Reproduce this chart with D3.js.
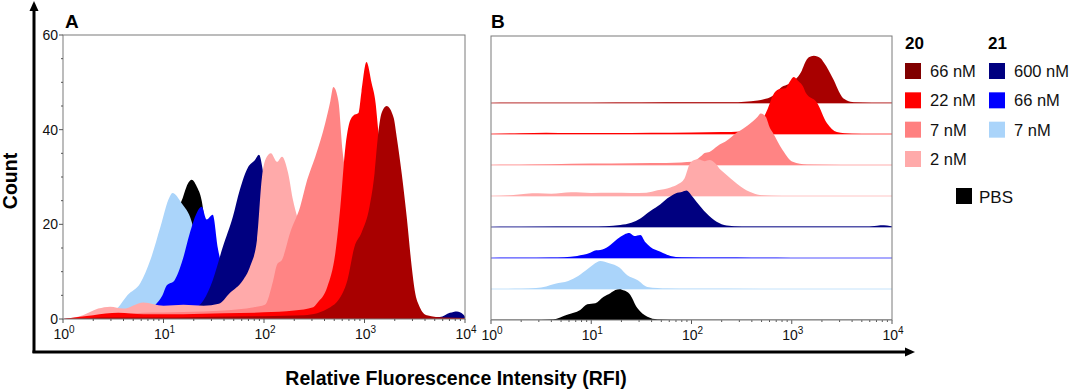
<!DOCTYPE html>
<html><head><meta charset="utf-8">
<script src="https://cdn.jsdelivr.net/npm/d3@7"></script>
<style>
body{margin:0;background:#fff}
svg{display:block;font-family:Arial,"Liberation Sans",Helvetica,sans-serif}
</style>
</head><body>
<svg id="chart" width="1072" height="390"></svg>
<script>
// ---------- DATA (RFI, count) ----------
const rfiLightBlue = [1, 2.0, 2.82, 3.55, 4.37, 5.89, 7.41, 9.33, 11.5, 12.3, 15.1, 19.1, 22.9, 28.8, 36.3, 57.5, 100, 10000];
const cntLightBlue = [0, 0.2, 1.0, 2.5, 5, 7.6, 12.5, 19.5, 25.8, 26.6, 24.5, 20.5, 13, 8.5, 2, 0.5, 0.2, 0];

const rfiPBS = [3.16, 4.17, 5.75, 7.76, 9.12, 11.0, 13.2, 15.5, 17.4, 19.1, 21.4, 24.0, 28.8, 36.3, 45.7, 63.1];
const cntPBS = [0, 0.5, 5, 9.5, 15, 16, 22, 25.5, 28.5, 29.4, 28, 25, 11.4, 3, 0.5, 0];

const rfiBlue = [1, 2.0, 3.98, 7.24, 8.32, 9.77, 10.7, 12.9, 15.5, 18.2, 21.4, 24.0, 26.9, 30.9, 34.7, 38.9, 49.0, 61.7, 79.4, 200, 398, 1000];
const cntBlue = [0, 0.3, 0.5, 2, 3, 5, 7, 8.2, 12.5, 18, 22.4, 23.7, 21, 22, 15, 10.5, 6, 2, 0.8, 0.5, 0.3, 0];

const rfiNavy = [1, 2.0, 10, 19.5, 25.1, 30.9, 38.9, 49.0, 57.5, 69.2, 81.3, 89.1, 100, 112, 141, 178, 224, 316, 1000, 3162, 5623, 7079, 8318, 9550, 10000];
const cntNavy = [0, 0.3, 0.5, 2, 4, 8.2, 15.2, 21.6, 27.3, 32, 33.6, 34.7, 30, 24, 13, 5, 1.5, 0.5, 0.4, 0.4, 0.4, 1.3, 1.6, 1.0, 0.5];

const rfiPink = [1, 1.58, 2.24, 2.95, 3.98, 6.31, 10, 15.8, 25.1, 35.5, 45.7, 61.7, 72.4, 85.1, 95.5, 105, 117, 135, 151, 174, 195, 214, 282, 380, 479, 631, 1000];
const cntPink = [0, 0.8, 2.2, 2.6, 2.2, 3.5, 2.8, 3, 2.8, 3.2, 5.5, 8.2, 11, 16.7, 30, 34, 35, 33.2, 34.3, 30.8, 25, 21.6, 12, 4, 1, 0.3, 0];

const rfiSalmon = [1, 2.51, 6.31, 15.8, 39.8, 79.4, 102, 123, 135, 151, 182, 229, 269, 324, 407, 457, 490, 550, 603, 646, 813, 1023, 1413, 3162];
const cntSalmon = [0, 0.5, 1.3, 1.5, 1.8, 2.5, 3, 8, 11.5, 12.5, 18.2, 23.7, 29.4, 34.3, 41.4, 46, 49, 46, 35.7, 31, 14, 3, 0.5, 0];

const rfiRed = [1, 2.0, 3.55, 6.31, 15.8, 39.8, 100, 200, 309, 339, 427, 513, 575, 646, 692, 776, 871, 933, 1047, 1175, 1288, 1380, 1778, 2239, 2818, 3981, 6310];
const cntRed = [0, 0.8, 1.3, 1.0, 1.0, 1.2, 1.4, 1.8, 2.5, 3.4, 6.8, 14, 23.7, 36.4, 40.6, 43, 43.5, 48, 54.3, 49.9, 45.7, 39.3, 30, 10.5, 2, 0.3, 0];

const rfiDarkRed = [1, 3.16, 10, 31.6, 100, 251, 457, 550, 676, 794, 933, 1122, 1259, 1349, 1479, 1660, 1950, 2089, 2344, 2630, 2951, 3162, 3548, 4169, 6310, 10000];
const cntDarkRed = [0, 0.3, 0.3, 0.5, 0.6, 0.8, 2.5, 4, 8.2, 15.2, 18.2, 23.7, 30.8, 37.8, 43.5, 45, 42.5, 38.5, 30.8, 21.6, 11, 6, 2.5, 0.8, 0.3, 0.2];

// drawing order in panel A (later = on top)
const seriesNames = ["pbs", "lightblue", "blue", "navy", "pink", "salmon", "red", "darkred"];
const seriesColors = ["#000000", "#AAD4FA", "#0000FF", "#000080", "#FFAAAA", "#FF8484", "#FF0000", "#A80000"];
const rowOrderB = ["darkred", "red", "salmon", "pink", "navy", "blue", "lightblue", "pbs"];

const xTickValues = [1, 10, 100, 1000, 10000];
const xTickExponents = ["0", "1", "2", "3", "4"];
const yTickValues = [0, 20, 40, 60];

const legendTitle20 = "20", legendTitle21 = "21";
const legendLabels20 = ["66 nM", "22 nM", "7 nM", "2 nM"];
const legendColors20 = ["#800000", "#FF0000", "#FF8080", "#FFAAAA"];
const legendLabels21 = ["600 nM", "66 nM", "7 nM"];
const legendColors21 = ["#000080", "#0000FF", "#AAD4FA"];
const legendPBS = "PBS";

// ---------- BUILD ----------
const raw = {
  lightblue: [rfiLightBlue, cntLightBlue], pbs: [rfiPBS, cntPBS], blue: [rfiBlue, cntBlue],
  navy: [rfiNavy, cntNavy], pink: [rfiPink, cntPink], salmon: [rfiSalmon, cntSalmon],
  red: [rfiRed, cntRed], darkred: [rfiDarkRed, cntDarkRed]
};
const series = seriesNames.map((n, i) => ({
  name: n, color: seriesColors[i],
  pts: raw[n][0].map((x, j) => ({x, c: raw[n][1][j]}))
}));
const byName = Object.fromEntries(series.map(s => [s.name, s]));

const svg = d3.select("#chart");
const frameColor = "#7a7a7a";

// panel A scales
const xA = d3.scaleLog().domain([1, 10000]).range([63, 465]);
const yA = d3.scaleLinear().domain([0, 60]).range([319, 35]);
// panel B scales
const xB = d3.scaleLog().domain([1, 10000]).range([491, 892]);
const rowB = d3.scalePoint().domain(rowOrderB).range([103, 320]);
const hB = d3.scaleLinear().domain([0, 60]).range([0, 63]);

const defs = svg.append("defs");
defs.append("clipPath").attr("id", "clipA").append("rect")
  .attr("x", xA.range()[0]).attr("y", yA.range()[1])
  .attr("width", xA.range()[1] - xA.range()[0]).attr("height", yA.range()[0] - yA.range()[1]);
defs.append("clipPath").attr("id", "clipB").append("rect")
  .attr("x", xB.range()[0]).attr("y", 36)
  .attr("width", xB.range()[1] - xB.range()[0]).attr("height", 320 - 36);

// ----- Panel A -----
const gA = svg.append("g").attr("clip-path", "url(#clipA)");
const areaA = d3.area().curve(d3.curveMonotoneX)
  .x(d => xA(d.x)).y0(yA(0)).y1(d => yA(d.c));
series.forEach(s => {
  gA.append("path").datum(s.pts).attr("d", areaA).attr("fill", s.color);
});
svg.append("rect").attr("x", 63).attr("y", 35).attr("width", 402).attr("height", 284)
  .attr("fill", "none").attr("stroke", frameColor).attr("stroke-width", 1);

// y axis A
const yAxisA = svg.append("g");
d3.range(0, 61, 5).forEach(v => {
  const major = yTickValues.includes(v);
  yAxisA.append("line").attr("x1", 63).attr("x2", major ? 59 : 61)
    .attr("y1", yA(v)).attr("y2", yA(v)).attr("stroke", "#555").attr("stroke-width", 1);
});
yTickValues.forEach(v => {
  yAxisA.append("text").attr("x", 58).attr("y", yA(v) + 5)
    .attr("text-anchor", "end").attr("font-size", 14).attr("fill", "#111").text(v);
});

// x axes (both panels)
function drawXAxis(x, yBase) {
  const g = svg.append("g");
  const minors = [];
  for (let d = 1; d < 10000; d *= 10) for (let k = 2; k <= 9; k++) minors.push(d * k);
  minors.forEach(v => g.append("line").attr("x1", x(v)).attr("x2", x(v))
    .attr("y1", yBase).attr("y2", yBase + 2).attr("stroke", "#555"));
  xTickValues.forEach((v, i) => {
    g.append("line").attr("x1", x(v)).attr("x2", x(v))
      .attr("y1", yBase).attr("y2", yBase + 4).attr("stroke", "#555");
    const t = g.append("text").attr("x", x(v) + 1).attr("y", yBase + 20)
      .attr("text-anchor", "middle").attr("font-size", 14).attr("fill", "#111");
    t.append("tspan").text("10");
    t.append("tspan").attr("dy", -6).attr("font-size", 10).text(xTickExponents[i]);
  });
}
drawXAxis(xA, 319);
drawXAxis(xB, 320);

// ----- Panel B -----
const gB = svg.append("g").attr("clip-path", "url(#clipB)");
rowOrderB.forEach(n => {
  const s = byName[n];
  const base = rowB(n);
  const area = d3.area().curve(d3.curveMonotoneX)
    .x(d => xB(d.x)).y0(base).y1(d => base - hB(d.c));
  gB.append("line").attr("x1", xB(1)).attr("x2", xB(10000)).attr("y1", base).attr("y2", base)
    .attr("stroke", s.color).attr("stroke-opacity", 0.45).attr("stroke-width", 1.5);
  gB.append("path").datum(s.pts).attr("d", area).attr("fill", s.color);
});
svg.append("rect").attr("x", 491).attr("y", 36).attr("width", 401).attr("height", 284)
  .attr("fill", "none").attr("stroke", frameColor).attr("stroke-width", 1);

// panel letters
svg.append("text").attr("x", 65).attr("y", 28).attr("font-size", 19).attr("font-weight", "bold").text("A");
svg.append("text").attr("x", 491).attr("y", 28).attr("font-size", 19).attr("font-weight", "bold").text("B");

// outer axes with arrows
svg.append("line").attr("x1", 34).attr("x2", 34).attr("y1", 353).attr("y2", 9)
  .attr("stroke", "#000").attr("stroke-width", 3);
svg.append("path").attr("d", "M34,1 L29.5,11 L38.5,11 Z").attr("fill", "#000");
svg.append("line").attr("x1", 32.5).attr("x2", 907).attr("y1", 352).attr("y2", 352)
  .attr("stroke", "#000").attr("stroke-width", 3);
svg.append("path").attr("d", "M915,352 L905,347.5 L905,356.5 Z").attr("fill", "#000");

// axis titles
svg.append("text").attr("x", 456).attr("y", 385).attr("text-anchor", "middle")
  .attr("font-size", 19.5).attr("font-weight", "bold").text("Relative Fluorescence Intensity (RFI)");
svg.append("text").attr("transform", "translate(17,181) rotate(-90)").attr("text-anchor", "middle")
  .attr("font-size", 19.5).attr("font-weight", "bold").text("Count");

// legend
const lg = svg.append("g");
lg.append("text").attr("x", 905).attr("y", 49).attr("font-size", 17).attr("font-weight", "bold").text(legendTitle20);
lg.append("text").attr("x", 988).attr("y", 49).attr("font-size", 17).attr("font-weight", "bold").text(legendTitle21);
const rowY = d3.scalePoint().domain(d3.range(4)).range([71, 159]);
legendLabels20.forEach((l, i) => {
  lg.append("rect").attr("x", 905).attr("y", rowY(i) - 8).attr("width", 16).attr("height", 16).attr("fill", legendColors20[i]);
  lg.append("text").attr("x", 930).attr("y", rowY(i) + 6).attr("font-size", 16.5).attr("fill", "#111").text(l);
});
legendLabels21.forEach((l, i) => {
  lg.append("rect").attr("x", 989).attr("y", rowY(i) - 8).attr("width", 16).attr("height", 16).attr("fill", legendColors21[i]);
  lg.append("text").attr("x", 1014).attr("y", rowY(i) + 6).attr("font-size", 16.5).attr("fill", "#111").text(l);
});
lg.append("rect").attr("x", 956).attr("y", 188).attr("width", 16).attr("height", 16).attr("fill", "#000");
lg.append("text").attr("x", 979).attr("y", 203).attr("font-size", 17).attr("fill", "#111").text(legendPBS);
</script>
</body></html>
